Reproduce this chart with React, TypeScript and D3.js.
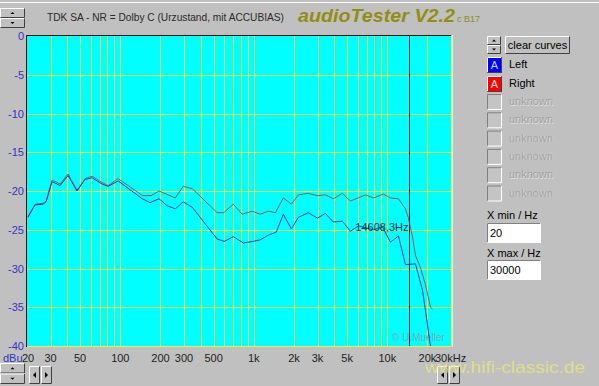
import React, { useEffect, useRef } from "react";
import * as d3 from "d3";

// measured curves, frequency in Hz / level in dBu
const freqLeft = [20.3, 23, 26.4, 27.8, 30.8, 35.4, 40.6, 47.4, 54.5, 61.5, 73, 81, 96.3, 146, 167, 195, 224, 258, 296, 346, 532, 600, 702, 834, 991, 1118, 1284, 1474, 1664, 1910, 2156, 2562, 2993, 3437, 3945, 4609, 5293, 6077, 7870, 9196, 10556, 12121, 13677, 16256, 18343, 19656, 20704, 21500];
const dbLeft = [-23.4, -21.8, -21.7, -21.4, -18.8, -19.3, -18.0, -20.0, -18.5, -18.3, -19.1, -19.4, -18.7, -21.0, -21.5, -21.0, -21.9, -22.3, -21.4, -22.1, -26.2, -26.5, -25.9, -26.7, -26.5, -26.3, -25.7, -25.3, -23.0, -24.9, -23.4, -22.8, -23.5, -22.9, -24.0, -23.9, -25.2, -24.5, -25.0, -24.6, -26.6, -25.8, -29.5, -29.4, -32.8, -36.3, -39.2, -41];

const freqRight = [20.3, 23, 26.4, 27.8, 30.8, 35.4, 40.6, 47.4, 54.5, 61.5, 73, 81, 96.3, 147, 170, 195, 258, 296, 346, 532, 595, 702, 820, 974, 1118, 1284, 1449, 1664, 1910, 2156, 2562, 2993, 3437, 3945, 4609, 5293, 6855, 7870, 9355, 10556, 12121, 13677, 14405, 15436, 16256, 17722, 19320, 21066, 21810];
const dbRight = [-23.3, -21.7, -21.6, -21.3, -18.6, -19.1, -17.8, -19.9, -18.4, -18.1, -18.9, -19.3, -18.4, -20.6, -20.6, -20.0, -20.9, -19.4, -19.7, -22.8, -22.8, -21.7, -23.0, -22.6, -23.0, -22.6, -22.8, -20.9, -21.7, -20.5, -20.3, -20.6, -20.5, -21.0, -20.3, -21.3, -20.5, -20.9, -20.4, -20.9, -21.0, -22.3, -23.5, -25.9, -28.3, -29.9, -32.1, -35.0, -35.2];

const yTicks = [0, -5, -10, -15, -20, -25, -30, -35, -40];
const xTicks = [20, 30, 50, 100, 200, 300, 500, 1000, 2000, 3000, 5000, 10000, 20000, 30000];
const xTickLabels = ["20", "30", "50", "100", "200", "300", "500", "1k", "2k", "3k", "5k", "10k", "20k", "30kHz"];
const channels = ["Left", "Right"];
const channelColors = ["#0000ff", "#ff0000"];
const lineColors = ["#1c36c8", "#9a5848"];
const unknownSlots = ["unknown", "unknown", "unknown", "unknown", "unknown", "unknown"];
const cursorFreq = 14608.3;
const xMinValue = "20";
const xMaxValue = "30000";

const FONT = "'Liberation Sans', Arial, sans-serif";

function bevel(g, x, y, w, h, sunken = false, fill = "#c0c0c0") {
  const b = g.append("g");
  b.append("rect").attr("x", x).attr("y", y).attr("width", w).attr("height", h).attr("fill", fill);
  const light = sunken ? "#808080" : "#ffffff";
  const dark = sunken ? "#ffffff" : "#404040";
  b.append("path").attr("d", `M${x + 0.5},${y + h - 0.5}V${y + 0.5}H${x + w - 0.5}`)
    .attr("fill", "none").attr("stroke", light);
  b.append("path").attr("d", `M${x + 0.5},${y + h - 0.5}H${x + w - 0.5}V${y + 0.5}`)
    .attr("fill", "none").attr("stroke", dark);
  return b;
}

function spinner(g, x, y, w, h) {
  const hh = h / 2;
  bevel(g, x, y, w, hh);
  bevel(g, x, y + hh, w, hh);
  const cx = x + w / 2;
  g.append("path").attr("d", `M${cx - 2},${y + hh / 2 + 1}h4l-2,-2z`).attr("fill", "#000");
  g.append("path").attr("d", `M${cx - 2},${y + hh + hh / 2 - 1}h4l-2,2z`).attr("fill", "#000");
}

function arrows(g, x, y) {
  bevel(g, x, y, 11, 18);
  bevel(g, x + 12, y, 11, 18);
  g.append("path").attr("d", `M${x + 7},${y + 6}v6l-3,-3z`).attr("fill", "#000");
  g.append("path").attr("d", `M${x + 16},${y + 6}v6l3,-3z`).attr("fill", "#000");
}

export default function App() {
  const ref = useRef(null);

  useEffect(() => {
    const svg = d3.select(ref.current);
    svg.selectAll("*").remove();

    const x = d3.scaleLog().domain([20, 30000]).range([27, 451]);
    const y = d3.scaleLinear().domain([0, -40]).range([36, 346]);

    svg.append("rect").attr("width", 599).attr("height", 386).attr("fill", "#c0c0c0");
    svg.append("line").attr("x1", 0).attr("x2", 599).attr("y1", 2.5).attr("y2", 2.5).attr("stroke", "#ffffff");

    // header
    spinner(svg, 0, 8, 25, 20);
    svg.append("text").attr("x", 47).attr("y", 21).attr("font-family", FONT).attr("font-size", 11)
      .attr("fill", "#2a2a2a").attr("textLength", 237).attr("lengthAdjust", "spacingAndGlyphs")
      .text("TDK SA - NR = Dolby C (Urzustand, mit ACCUBIAS)");
    svg.append("text").attr("x", 298).attr("y", 22).attr("font-family", FONT).attr("font-size", 18)
      .attr("font-weight", "bold").attr("font-style", "italic").attr("fill", "#8f8f14")
      .attr("textLength", 157).attr("lengthAdjust", "spacingAndGlyphs").text("audioTester V2.2");
    svg.append("text").attr("x", 457).attr("y", 22).attr("font-family", FONT).attr("font-size", 9)
      .attr("fill", "#8f8f14").text("c B17");

    // plot area
    const plot = svg.append("g");
    plot.append("rect").attr("x", 27).attr("y", 36).attr("width", 424).attr("height", 310).attr("fill", "#00ffff");
    plot.selectAll(".vgrid").data(x.ticks().filter(d => d > 20))
      .enter().append("line").attr("class", "vgrid")
      .attr("x1", d => Math.round(x(d)) + 0.5).attr("x2", d => Math.round(x(d)) + 0.5)
      .attr("y1", 36).attr("y2", 346).attr("stroke", "#e8f048");
    plot.selectAll(".hgrid").data(yTicks.filter(d => d < 0))
      .enter().append("line").attr("class", "hgrid")
      .attr("x1", 27).attr("x2", 451)
      .attr("y1", d => Math.round(y(d)) + 0.5).attr("y2", d => Math.round(y(d)) + 0.5)
      .attr("stroke", "#e8f048");
    plot.append("path").attr("d", "M26.5,347V35.5H451").attr("fill", "none").attr("stroke", "#101010");
    plot.append("line").attr("x1", 452.5).attr("x2", 452.5).attr("y1", 35).attr("y2", 347).attr("stroke", "#e8e8e8");

    svg.append("clipPath").attr("id", "plotclip").append("rect")
      .attr("x", 27).attr("y", 36).attr("width", 424).attr("height", 310);

    plot.append("text").attr("x", 392).attr("y", 341).attr("font-family", FONT).attr("font-size", 10)
      .attr("fill", "#7fa8b8").text("© U.Mueller");

    const line = d3.line().x(d => x(d[0])).y(d => y(d[1]));
    const series = [d3.zip(freqLeft, dbLeft), d3.zip(freqRight, dbRight)];
    const curves = plot.append("g").attr("clip-path", "url(#plotclip)");
    curves.append("path").datum(series[1]).attr("d", line).attr("fill", "none").attr("stroke", lineColors[1]).attr("stroke-width", 1);
    curves.append("path").datum(series[0]).attr("d", line).attr("fill", "none").attr("stroke", lineColors[0]).attr("stroke-width", 1);

    // cursor
    const cx = Math.round(x(cursorFreq)) + 0.5;
    plot.append("line").attr("x1", cx).attr("x2", cx).attr("y1", 36).attr("y2", 346).attr("stroke", "#101018");
    plot.append("text").attr("x", cx - 1).attr("y", 231).attr("text-anchor", "end").attr("font-family", FONT)
      .attr("font-size", 11).attr("fill", "#1c2c3c").text(cursorFreq.toFixed(1).replace(".", ",") + "Hz");

    // axes labels
    svg.selectAll(".ylab").data(yTicks).enter().append("text").attr("class", "ylab")
      .attr("x", 24).attr("y", d => y(d) + 4).attr("text-anchor", "end")
      .attr("font-family", FONT).attr("font-size", 11).attr("fill", "#3434c8").text(d => d);
    svg.append("text").attr("x", 3).attr("y", 362).attr("font-family", FONT).attr("font-size", 11)
      .attr("fill", "#3434c8").text("dBu");
    const last = xTicks.length - 1;
    svg.selectAll(".xlab").data(xTicks).enter().append("text").attr("class", "xlab")
      .attr("x", (d, i) => i === 0 ? 22 : i === last ? 435 : x(d))
      .attr("y", 362).attr("text-anchor", (d, i) => i === 0 || i === last ? "start" : "middle")
      .attr("font-family", FONT).attr("font-size", 11).attr("fill", "#222")
      .text((d, i) => xTickLabels[i]);

    // bottom controls
    spinner(svg, 0, 363, 25, 21);
    arrows(svg, 29, 366);
    arrows(svg, 437, 366);

    svg.append("text").attr("x", 425).attr("y", 373).attr("font-family", FONT).attr("font-size", 17)
      .attr("fill", "#e6e67a").attr("fill-opacity", 0.8).attr("textLength", 160)
      .attr("lengthAdjust", "spacingAndGlyphs").text("www.hifi-classic.de");

    // right panel
    spinner(svg, 487, 36, 14, 18);
    bevel(svg, 505, 36, 65, 18);
    svg.append("text").attr("x", 537.5).attr("y", 49).attr("text-anchor", "middle").attr("font-family", FONT)
      .attr("font-size", 11).attr("fill", "#000").text("clear curves");

    channels.forEach((name, i) => {
      const top = 57 + i * 19;
      bevel(svg, 487, top, 15, 16, false, channelColors[i]);
      svg.append("text").attr("x", 494.5).attr("y", top + 12).attr("text-anchor", "middle").attr("font-family", FONT)
        .attr("font-size", 11).attr("fill", i === 0 ? "#c8d8ff" : "#ffe0e0").text("A");
      svg.append("text").attr("x", 509).attr("y", top + 11).attr("font-family", FONT)
        .attr("font-size", 11).attr("fill", "#000").text(name);
    });

    unknownSlots.forEach((name, i) => {
      const top = 94 + i * 18.3;
      bevel(svg, 487, top, 15, 16, true, "#c4c4c4");
      svg.append("text").attr("x", 509.5).attr("y", top + 11.5).attr("font-family", FONT)
        .attr("font-size", 11).attr("fill", "#e4e4e4").text(name);
      svg.append("text").attr("x", 509).attr("y", top + 11).attr("font-family", FONT)
        .attr("font-size", 11).attr("fill", "#a0a0a0").text(name);
    });

    svg.append("text").attr("x", 487).attr("y", 219).attr("font-family", FONT).attr("font-size", 11)
      .attr("fill", "#000").text("X min / Hz");
    bevel(svg, 487, 223, 54, 20, true, "#ffffff");
    svg.append("text").attr("x", 490).attr("y", 237).attr("font-family", FONT).attr("font-size", 11)
      .attr("fill", "#000").text(xMinValue);
    svg.append("text").attr("x", 487).attr("y", 257).attr("font-family", FONT).attr("font-size", 11)
      .attr("fill", "#000").text("X max / Hz");
    bevel(svg, 487, 260, 54, 20, true, "#ffffff");
    svg.append("text").attr("x", 490).attr("y", 274).attr("font-family", FONT).attr("font-size", 11)
      .attr("fill", "#000").text(xMaxValue);
  }, []);

  return (
    <div style={{ position: "fixed", left: 0, top: 0 }}>
      <svg ref={ref} width={599} height={386} style={{ display: "block" }} />
    </div>
  );
}
